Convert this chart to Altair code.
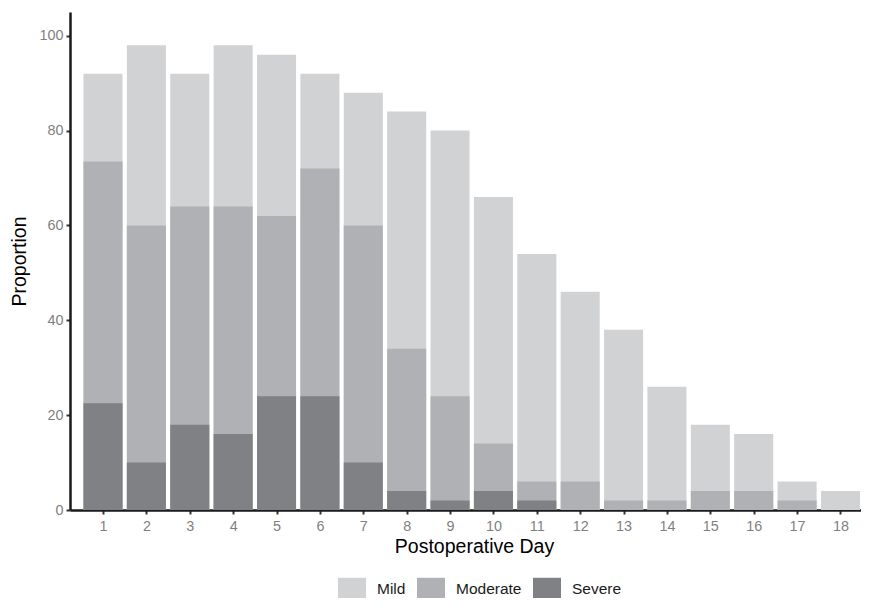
import altair as alt
import pandas as pd

days = list(range(1, 19))
mild = [92, 98, 92, 98, 96, 92, 88, 84, 80, 66, 54, 46, 38, 26, 18, 16, 6, 4]
moderate = [73.5, 60, 64, 64, 62, 72, 60, 34, 24, 14, 6, 6, 2, 2, 4, 4, 2, 0]
severe = [22.5, 10, 18, 16, 24, 24, 10, 4, 2, 4, 2, 0, 0, 0, 0, 0, 0, 0]
levels = ["Mild", "Moderate", "Severe"]
colors = ["#d1d2d4", "#b0b1b4", "#808184"]

rows = []
for name, series in zip(levels, [mild, moderate, severe]):
    for d, v in zip(days, series):
        rows.append({"day": d, "severity": name, "value": v})
df = pd.DataFrame(rows)

chart = alt.Chart(df).transform_calculate(
    x0="datum.day - 0.45", x1="datum.day + 0.45", base="0"
).mark_bar(stroke=None).encode(
    x=alt.X("x0:Q", title="Postoperative Day",
            scale=alt.Scale(domain=[0.2393, 18.473], nice=False, zero=False),
            axis=alt.Axis(values=days, grid=False, format="d",
                          labelPadding=5, titlePadding=5, titleX=404)),
    x2="x1:Q",
    y=alt.Y("value:Q", title="Proportion",
            scale=alt.Scale(domain=[0, 105], nice=False, padding=0),
            axis=alt.Axis(values=[0, 20, 40, 60, 80, 100], grid=False,
                          titlePadding=9, labelPadding=3)),
    y2="base:Q",
    color=alt.Color("severity:N", title=None,
                    scale=alt.Scale(domain=levels, range=colors),
                    legend=alt.Legend(orient="none", direction="horizontal",
                                      legendX=268, legendY=563,
                                      symbolType="M-1,-0.82H1V0.82H-1Z",
                                      symbolSize=784, symbolStrokeWidth=0,
                                      symbolOpacity=1,
                                      labelFont="Liberation Sans", labelFontSize=15.5,
                                      labelColor="#1a1a1a", labelOffset=11,
                                      columnPadding=11, padding=0)),
    order=alt.Order("severity:N"),
).properties(
    width=791, height=498,
    autosize=alt.AutoSizeParams(type="none"),
    padding={"left": 62, "top": 4, "right": 0, "bottom": 88},
).configure_view(stroke=None).configure_axis(
    domainColor="#1a1a1a", domainWidth=2.5,
    tickColor="#333333", tickWidth=2, tickSize=4,
    labelColor="#7f7f7f", labelFont="Liberation Sans", labelFontSize=14.4,
    titleFont="Liberation Sans", titleFontSize=19.5, titleFontWeight="normal",
    titleColor="#000000",
)

chart.save("out.html", embed_options={"renderer": "svg", "actions": False})
